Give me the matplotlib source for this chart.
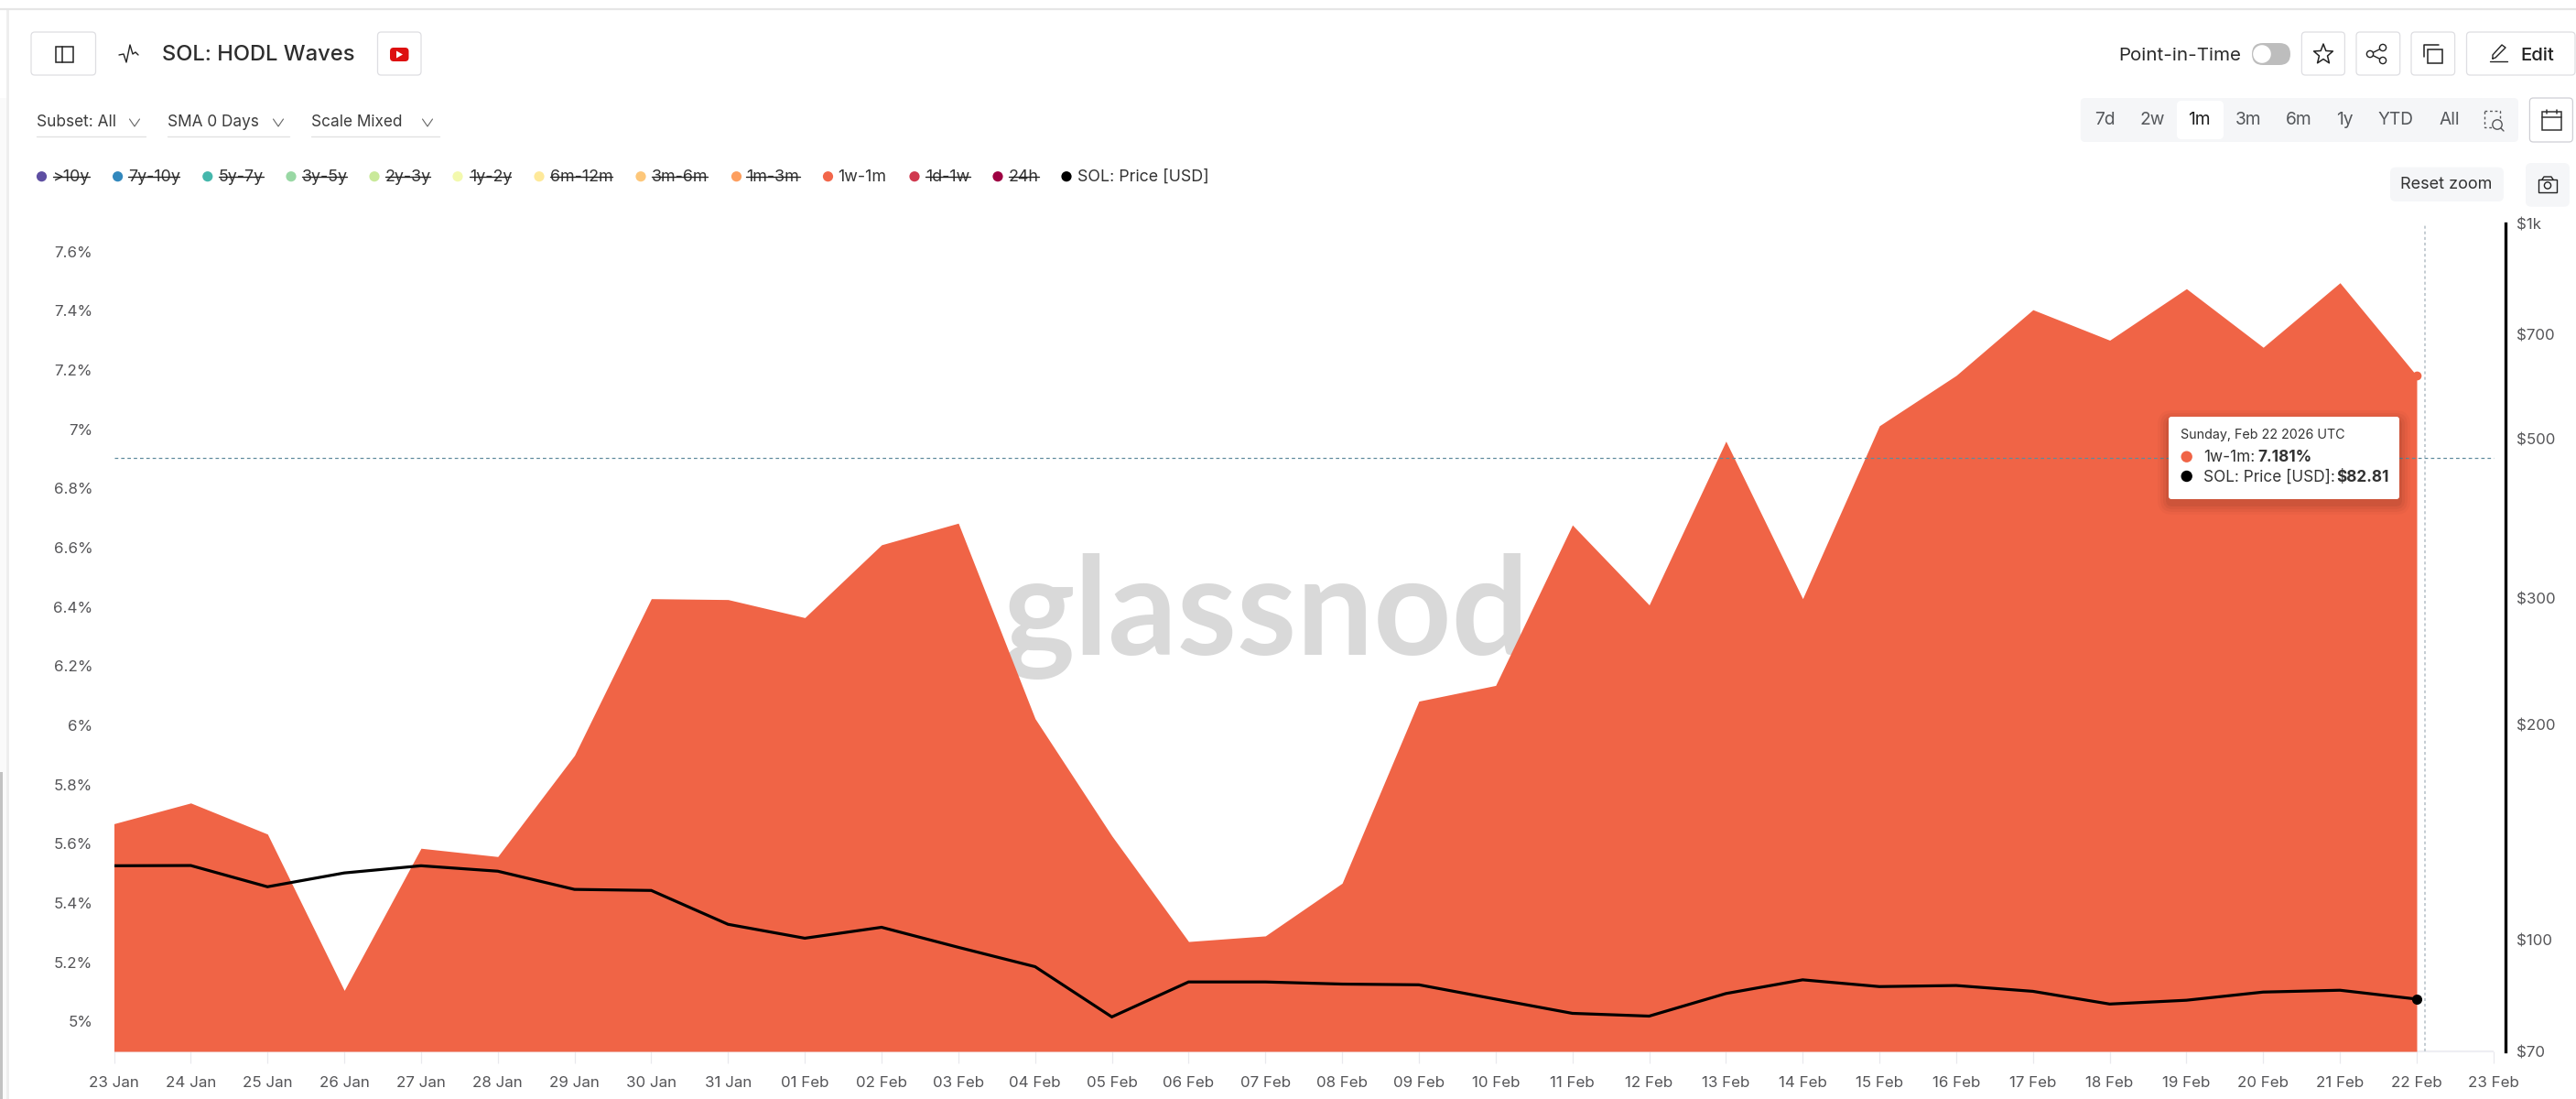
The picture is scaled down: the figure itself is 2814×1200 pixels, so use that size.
import math
import matplotlib
matplotlib.use("Agg")
import matplotlib.pyplot as plt
from matplotlib.patches import FancyBboxPatch, Circle, Rectangle, Polygon

W, H = 2814, 1200
DPI = 100

# ---------- data ----------
date_labels = ["23 Jan", "24 Jan", "25 Jan", "26 Jan", "27 Jan", "28 Jan", "29 Jan", "30 Jan", "31 Jan",
               "01 Feb", "02 Feb", "03 Feb", "04 Feb", "05 Feb", "06 Feb", "07 Feb", "08 Feb", "09 Feb",
               "10 Feb", "11 Feb", "12 Feb", "13 Feb", "14 Feb", "15 Feb", "16 Feb", "17 Feb", "18 Feb",
               "19 Feb", "20 Feb", "21 Feb", "22 Feb", "23 Feb"]
wave_1w_1m = [5.668, 5.738, 5.633, 5.105, 5.585, 5.557, 5.899, 6.428, 6.425, 6.364, 6.610, 6.683,
              6.023, 5.627, 5.270, 5.289, 5.467, 6.082, 6.135, 6.677, 6.407, 6.960, 6.428, 7.012,
              7.182, 7.404, 7.301, 7.475, 7.277, 7.495, 7.181]
sol_price = [127.1, 127.2, 118.8, 124.2, 127.1, 124.9, 117.8, 117.4, 105.3, 100.7, 104.3, 97.8,
             91.9, 78.2, 87.5, 87.5, 86.9, 86.7, 82.8, 79.1, 78.4, 84.3, 88.1, 86.2,
             86.5, 84.9, 81.5, 82.5, 84.7, 85.2, 82.81]
left_ticks = [5.0, 5.2, 5.4, 5.6, 5.8, 6.0, 6.2, 6.4, 6.6, 6.8, 7.0, 7.2, 7.4, 7.6]
left_tick_labels = ["5%", "5.2%", "5.4%", "5.6%", "5.8%", "6%", "6.2%", "6.4%", "6.6%", "6.8%",
                    "7%", "7.2%", "7.4%", "7.6%"]
right_ticks = [70, 100, 200, 300, 500, 700, 1000]
right_tick_labels = ["$70", "$100", "$200", "$300", "$500", "$700", "$1k"]
legend_names = [">10y", "7y-10y", "5y-7y", "3y-5y", "2y-3y", "1y-2y", "6m-12m", "3m-6m", "1m-3m",
                "1w-1m", "1d-1w", "24h", "SOL: Price [USD]"]
legend_colors = ["#5e4fa2", "#3288bd", "#45b7ac", "#99d8a4", "#c9e99a", "#f3f9ae", "#fee99a", "#fdc77a",
                 "#fd9f5f", "#f2664a", "#d0394f", "#9e0142", "#000000"]
legend_off = [True] * 9 + [False, True, True, False]
range_labels = ["7d", "2w", "1m", "3m", "6m", "1y", "YTD", "All"]
crosshair_value = 6.904
crosshair_day = 30.11

# ---------- styles ----------
plt.rcParams["font.family"] = ["Inter", "DejaVu Sans"]
ORANGE = "#f06446"
TICK = "#555558"
days = list(range(len(wave_1w_1m)))
tick_days = list(range(len(date_labels)))

fig = plt.figure(figsize=(W / DPI, H / DPI), dpi=DPI, facecolor="white")
L, R, T, B = 124.5, 2737.0, 244.4, 1148.0
ax = fig.add_axes([L / W, 1 - B / H, (R - L) / W, (B - T) / H])
ax.set_xlim(0, (R - L) / 83.85)
ax.set_ylim(4.899, 7.694)
ax.set_facecolor("none")
for s in ax.spines.values():
    s.set_visible(False)

# watermark sits behind the area
fig.text(1383 / W, 1 - 715 / H, "glassnod", fontsize=107, family="Lato", fontweight="bold", color="#d9d9d9",
         ha="center", va="baseline", zorder=-5)

ax.fill_between(days, wave_1w_1m, 4.899, color=ORANGE, lw=0, zorder=2)
ax.set_yticks(left_ticks, left_tick_labels)
ax.tick_params(axis="y", length=0, pad=16.8, labelsize=12.2, labelcolor=TICK)
ax.set_xticks(tick_days, date_labels)
ax.tick_params(axis="x", length=9.5, width=0.9, color="#e9e9ee", pad=10, labelsize=12.2, labelcolor=TICK)
ax.hlines(4.899, 0, 31, color="#eeeef3", lw=1.6, zorder=1, clip_on=False)
ax.hlines(crosshair_value, 0, 31, color="#5f8b9d", lw=0.9, linestyles=(0, (3, 2.5)), zorder=3)
ax.axvline(crosshair_day, color="#b4bec6", lw=1.1, ls=(0, (2, 2)), zorder=3)
ax.plot(days[-1], wave_1w_1m[-1], "o", color=ORANGE, ms=7, mew=0, zorder=4, clip_on=False)

ax2 = ax.twinx()
ax2.set_yscale("log")
ax2.set_ylim(70, 1000)
ax2.set_facecolor("none")
for k, s in ax2.spines.items():
    s.set_visible(k == "right")
ax2.spines["right"].set_linewidth(2.4)
ax2.spines["right"].set_color("black")
ax2.set_yticks(right_ticks, right_tick_labels)
ax2.minorticks_off()
ax2.tick_params(axis="y", length=0, pad=8.6, labelsize=12.2, labelcolor=TICK)
ax2.plot(days, sol_price, color="black", lw=2.3, zorder=5, solid_joinstyle="miter")
ax2.plot(days[-1], sol_price[-1], "o", color="black", ms=8, mew=0, zorder=6, clip_on=False)

# ---------- page chrome, in pixel coordinates ----------
ui = fig.add_axes([0, 0, 1, 1], zorder=20)
ui.set_xlim(0, W)
ui.set_ylim(H, 0)
ui.axis("off")
ui.patch.set_alpha(0)


def box(x0, y0, x1, y1, fc="white", ec="#dedee2", r=4, lw=0.9, z=1, **kw):
    p = FancyBboxPatch((x0 + r, y0 + r), x1 - x0 - 2 * r, y1 - y0 - 2 * r,
                       boxstyle=f"round,pad={r},rounding_size={r}", fc=fc, ec=ec, lw=lw, zorder=z, **kw)
    ui.add_patch(p)
    return p


def line(xs, ys, c="#222222", lw=1.2, z=3):
    ui.plot(xs, ys, color=c, lw=lw, zorder=z, solid_capstyle="round", solid_joinstyle="round")


def chevron(cx, cy, c="#666666"):
    line([cx - 5.5, cx, cx + 5.5], [cy - 4, cy + 4, cy - 4], c=c, lw=0.8)


# page edges
line([0, W], [10, 10], c="#e6e6e6", lw=1.6)
ui.add_patch(Rectangle((0, 107), 7, H - 107, fc="#fafafa", ec="none"))
ui.add_patch(Rectangle((7, 10), 3, H - 10, fc="#eeeeee", ec="none"))
ui.add_patch(Rectangle((0, 843), 3, H - 843, fc="#c2c2c2", ec="none", zorder=2))

# header left
box(34, 35, 104.5, 82)
ui.add_patch(Rectangle((61, 51), 19, 17, fc="none", ec="#222222", lw=1.1, zorder=3))
line([68, 68], [51, 68], lw=1.1)
line([130, 135, 138, 142, 145, 148, 151], [60, 59, 68, 49, 59, 57, 60], lw=1.0)
ui.text(177, 60, "SOL: HODL Waves", fontsize=17.1, fontweight=500, color="#2e2e2e", va="center", ha="left")
box(412.5, 35, 460, 82)
box(426, 52, 446.5, 67, fc="#dd0f0f", ec="none", r=4, z=3)
ui.add_patch(Polygon([[433, 55.5], [433, 63.5], [440, 59.5]], fc="white", ec="none", zorder=4))

# dropdowns
for txt, x0, xc, x1 in [("Subset: All", 40, 147, 159), ("SMA 0 Days", 183, 304, 316), ("Scale Mixed", 340, 467, 480)]:
    ui.text(x0, 134, txt, fontsize=12.4, color="#3d3d3d", va="center", ha="left")
    chevron(xc, 134)
    line([x0, x1], [148.5, 148.5], c="#e2e2e2", lw=1.0)

# legend
dot_x = [45.5, 128.6, 226.8, 318, 409, 500, 589, 700, 804.5, 904.5, 999, 1090, 1165]
txt_x = [58, 140, 239, 330, 421, 513, 601, 711.6, 815, 915, 1011, 1102, 1177]
txt_end = [98, 196, 287.5, 378.5, 470, 558, 669, 773, 874, 969, 1060, 1135, 1321]
for n, c, off, dx, tx, te in zip(legend_names, legend_colors, legend_off, dot_x, txt_x, txt_end):
    ui.add_patch(Circle((dx, 192.7), 5.6, fc=c, ec="none", zorder=3))
    ui.text(tx, 193.5, n, fontsize=12.85, color="#333333", va="center", ha="left")
    if off:
        line([tx, te], [193, 193], c="#222222", lw=1.0)

# header right
ui.text(2314, 60.5, "Point-in-Time", fontsize=14.8, color="#2a2a2a", va="center", ha="left")
box(2460, 47, 2502, 71, fc="#bdbdbd", ec="none", r=12)
ui.add_patch(Circle((2471, 59), 9.8, fc="white", ec="none", zorder=3))
box(2514.4, 35, 2561.4, 82)
box(2574, 35, 2621.7, 82)
box(2634, 35, 2681.6, 82)
box(2694.5, 35, 2813, 82)
# star
star = []
for i in range(10):
    r = 11.5 if i % 2 == 0 else 5.0
    a = -math.pi / 2 + i * math.pi / 5
    star.append([2538 + r * math.cos(a) * 0.95, 59.5 + r * math.sin(a)])
ui.add_patch(Polygon(star, fc="none", ec="#222222", lw=1.1, zorder=3, joinstyle="round"))
# share
sx = [2589, 2603, 2603]
sy = [59, 52, 66]
line([sx[1], sx[0], sx[2]], [sy[1], sy[0], sy[2]], lw=1.0)
for a, b in zip(sx, sy):
    ui.add_patch(Circle((a, b), 3.6, fc="white", ec="#222222", lw=1.0, zorder=4))
# copy
ui.add_patch(Rectangle((2652, 54), 15.5, 14.5, fc="none", ec="#222222", lw=1.1, zorder=3))
line([2648, 2648, 2664], [62, 49, 49], lw=1.1)
# edit
line([2720, 2739], [67, 67], lw=1.0)
line([2723, 2723, 2733, 2737, 2726, 2723], [64, 60, 49, 52, 63, 64], lw=1.0)
ui.text(2753.5, 60.5, "Edit", fontsize=14.6, fontweight=500, color="#222222", va="center", ha="left")

# range selector
box(2272.8, 107, 2751, 155, fc="#f5f6f8", ec="none", r=5)
box(2378, 110, 2429, 152, fc="white", ec="none", r=5, z=2)
for lab, cx in zip(range_labels, [2299.5, 2350.7, 2402.8, 2456.5, 2511.3, 2561, 2617.4, 2675.7]):
    ui.text(cx, 131, lab, fontsize=13.8, color="#1f1f1f" if lab == "1m" else "#55585c", va="center", ha="center", zorder=4)
ui.add_patch(Rectangle((2714, 121), 17, 18, fc="none", ec="#555558", lw=1.0, ls=(0, (2, 2)), zorder=3))
ui.add_patch(Circle((2728, 136), 5.2, fc="#f5f6f8", ec="#555558", lw=1.0, zorder=4))
line([2732, 2735], [140, 143], c="#555558", lw=1.0, z=4)
box(2763.4, 107, 2810.4, 155, ec="#cfcfd4")
ui.add_patch(Rectangle((2777, 122), 20.5, 19.5, fc="none", ec="#333333", lw=1.1, zorder=3))
line([2777, 2797.5], [128, 128], c="#333333", lw=1.1)
line([2782, 2782], [120, 124], c="#333333", lw=1.1)
line([2792.5, 2792.5], [120, 124], c="#333333", lw=1.1)

# reset zoom and camera
box(2611, 182.7, 2735, 220, fc="#f5f6f8", ec="none", r=6)
ui.text(2672.6, 201.5, "Reset zoom", fontsize=13, color="#333333", va="center", ha="center", zorder=4)
box(2759, 178, 2807, 225.7, fc="#f5f6f8", ec="none", r=6)
ui.add_patch(Rectangle((2773, 196), 20, 13.5, fc="none", ec="#222222", lw=1.0, zorder=3))
ui.add_patch(Circle((2783, 202.5), 3.6, fc="none", ec="#222222", lw=1.0, zorder=3))
line([2777, 2779, 2787, 2789], [196, 193, 193, 196], lw=1.0)

# tooltip
for i, a in [(12, 0.025), (9, 0.03), (6, 0.04), (3, 0.05)]:
    box(2369 - i, 455 - i + 5, 2621 + i, 545 + i + 5, fc="black", ec="none", r=4 + i, z=5, alpha=a)
box(2369, 455, 2621, 545, fc="white", ec="none", r=3, z=6)
ui.text(2381.7, 475, "Sunday, Feb 22 2026 UTC", fontsize=10.3, color="#333333", va="center", ha="left", zorder=7)
ui.add_patch(Circle((2388.7, 498.7), 6.2, fc=ORANGE, ec="none", zorder=7))
ui.add_patch(Circle((2388.7, 520), 6.2, fc="black", ec="none", zorder=7))
ui.text(2407.3, 499.5, "1w-1m:", fontsize=12.4, color="#333333", va="center", ha="left", zorder=7)
ui.text(2466.7, 499.5, "7.181%", fontsize=12.4, fontweight="bold", color="#333333", va="center", ha="left", zorder=7)
ui.text(2407.3, 521, "SOL: Price [USD]:", fontsize=12.4, color="#333333", va="center", ha="left", zorder=7)
ui.text(2552.7, 521, "$82.81", fontsize=12.4, fontweight="bold", color="#333333", va="center", ha="left", zorder=7)

fig.savefig("out.png", dpi=DPI)
